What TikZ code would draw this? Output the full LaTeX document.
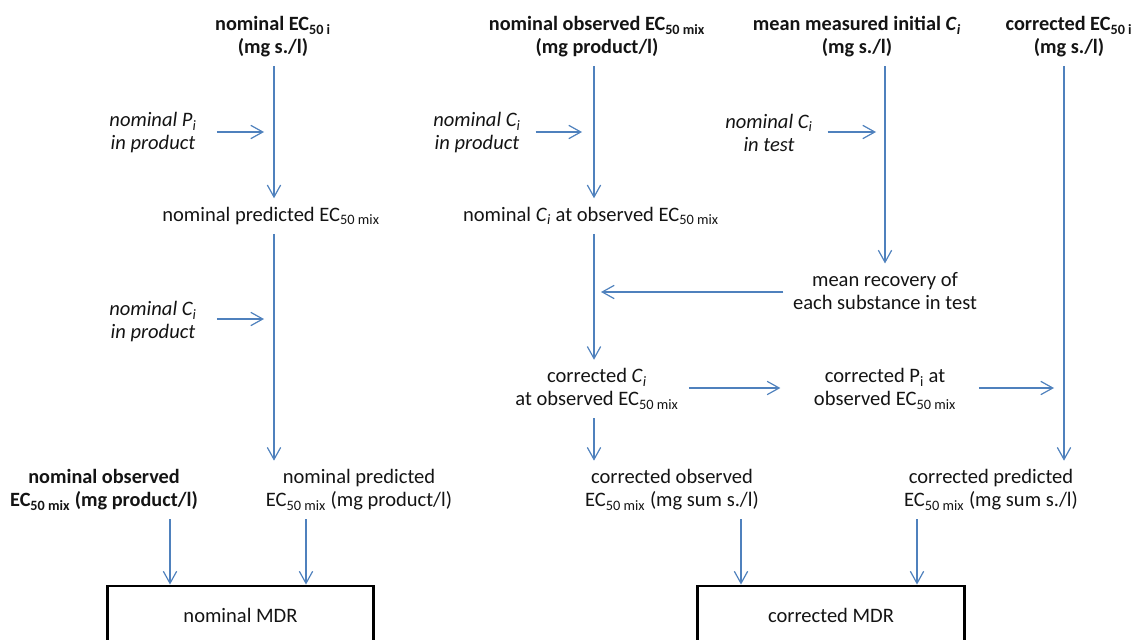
\documentclass[tikz,border=0pt]{standalone}
\usepackage{fontspec}
\setmainfont{Carlito}
\usetikzlibrary{arrows.meta,calc}
\definecolor{arrblue}{RGB}{79,129,189}
\definecolor{txt}{RGB}{20,20,20}
\newcommand\sbs[1]{\textsubscript{#1}}
\newcommand\Ci{\textit{C}\textsubscript{\textit{i}}}
\begin{document}
\begin{tikzpicture}[x=0.75pt,y=-0.75pt,
  every node/.style={font=\fontsize{15.4}{17.25}\selectfont, align=center, inner sep=0pt, text=txt},
  ttl/.style={font=\fontsize{15.2}{17.25}\selectfont\bfseries},
  side/.style={font=\fontsize{15.4}{17.25}\selectfont\itshape},
  arr/.style={draw=arrblue, line width=0.9pt, -{Straight Barb[length=9pt,width=10pt]}},
  vgap/.style={shorten <=6.5pt, shorten >=6.5pt},
  bgap/.style={shorten <=6.5pt, shorten >=0pt},
  mdr/.style={draw=black, line width=2.2pt, minimum width=200pt, minimum height=43.5pt}]
\useasboundingbox (0,0) rectangle (1138,639);
% titles
\node[ttl] (t1) at (273,37) {nominal EC\sbs{50 i}\\(mg s./l)};
\node[ttl] (t2) at (597,37) {nominal observed EC\sbs{50 mix}\\(mg product/l)};
\node[ttl] (t3) at (857,37) {mean measured initial \Ci\\(mg s./l)};
\node[ttl] (t4) at (1069,37) {corrected EC\sbs{50 i}\\(mg s./l)};
% side labels
\node[side] (lp1) at (153,133) {nominal P\textsubscript{i}\\in product};
\node[side] (lc1) at (153,322) {nominal C\textsubscript{i}\\in product};
\node[side] (lc2) at (477,133) {nominal C\textsubscript{i}\\in product};
\node[side] (lc3) at (769,133) {nominal C\textsubscript{i}\\in test};
% middle nodes
\node (np) at (271,216) {nominal predicted EC\sbs{50 mix}};
\node (nc) at (591,216) {nominal \Ci{} at observed EC\sbs{50 mix}};
\node (mr) at (885,291) {mean recovery of\\each substance in test};
\node (cc) at (597,389) {corrected \Ci\\at observed EC\sbs{50 mix}};
\node (cp) at (885,389) {corrected P\sbs{i} at\\observed EC\sbs{50 mix}};
% bottom texts
\node[ttl] (no) at (104,490) {nominal observed\\EC\sbs{50 mix} (mg product/l)};
\node (npd) at (359,490) {nominal predicted\\EC\sbs{50 mix} (mg product/l)};
\node (co) at (672,490) {corrected observed\\EC\sbs{50 mix} (mg sum s./l)};
\node (cpr) at (991,490) {corrected predicted\\EC\sbs{50 mix} (mg sum s./l)};
% boxes
\node[mdr] (nm) at (240.5,615) {nominal MDR};
\node[mdr] (cm) at (831,615) {corrected MDR};
% column coordinates
\coordinate (xA) at (274,0);
\coordinate (xC) at (594,0);
\coordinate (xE) at (885,0);
\coordinate (xG) at (1064,0);
\coordinate (xK) at (170,0);
\coordinate (xL) at (306,0);
\coordinate (xM) at (741,0);
\coordinate (xN) at (917,0);
\coordinate (e1) at (264,132);
\coordinate (e2) at (264,319);
\coordinate (e3) at (582,132);
\coordinate (e4) at (876,132);
\coordinate (e5) at (601,292);
\coordinate (e6) at (1054,388);
% vertical arrows
\draw[arr,vgap] (t1.south -| xA) -- (np.north -| xA);
\draw[arr,vgap] (np.south -| xA) -- (npd.north -| xA);
\draw[arr,vgap] (t2.south -| xC) -- (nc.north -| xC);
\draw[arr,vgap] (nc.south -| xC) -- (cc.north -| xC);
\draw[arr,vgap] (t3.south -| xE) -- (mr.north -| xE);
\draw[arr,vgap] (t4.south -| xG) -- (cpr.north -| xG);
\draw[arr,vgap] (cc.south -| xC) -- (co.north -| xC);
\draw[arr,bgap] (no.south -| xK) -- (nm.north -| xK);
\draw[arr,bgap] (npd.south -| xL) -- (nm.north -| xL);
\draw[arr,bgap] (co.south -| xM) -- (cm.north -| xM);
\draw[arr,bgap] (cpr.south -| xN) -- (cm.north -| xN);
% horizontal arrows
\draw[arr, shorten <=15pt] (lp1.east |- e1) -- (e1);
\draw[arr, shorten <=15pt] (lc1.east |- e2) -- (e2);
\draw[arr, shorten <=11pt] (lc2.east |- e3) -- (e3);
\draw[arr, shorten <=11pt] (lc3.east |- e4) -- (e4);
\draw[arr, shorten <=7pt] (mr.west |- e5) -- (e5);
\draw[arr, shorten <=7.5pt, shorten >=25pt] (cc.east |- e6) -- (cp.west |- e6);
\draw[arr, shorten <=17pt] (cp.east |- e6) -- (e6);
\end{tikzpicture}
\end{document}
